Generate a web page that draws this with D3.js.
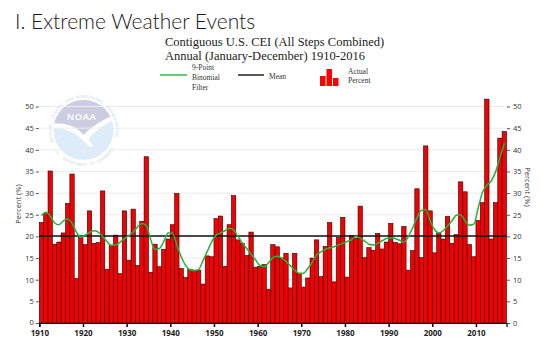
<!DOCTYPE html>
<html>
<head>
<script src="https://d3js.org/d3.v7.min.js"></script>
<style>
  body { margin: 0; background: #fff; }
  svg text { font-family: "Open Sans", sans-serif; }
</style>
</head>
<body>
<div id="chart"></div>
<script>
// CEI annual values, 1910-2016
const firstYear = 1910;
const actualPercent = [
  23.2, 25.3, 35.1, 18.2, 18.7, 20.8, 27.6, 34.4, 10.3, 19.7,
  18.1, 25.9, 18.4, 18.6, 30.5, 12.4, 18.0, 20.3, 11.4, 25.9,
  14.5, 26.3, 13.3, 23.5, 38.4, 11.7, 18.2, 13.0, 17.0, 19.4,
  22.7, 29.9, 12.6, 10.5, 12.4, 12.2, 12.2, 9.0, 15.5, 15.3,
  24.1, 24.7, 13.1, 22.7, 29.4, 19.2, 18.4, 15.6, 21.0, 12.9,
  13.1, 13.5, 7.8, 18.1, 17.6, 15.0, 16.1, 8.1, 16.1, 11.4,
  8.3, 10.4, 15.0, 19.2, 10.7, 17.7, 23.2, 9.5, 19.7, 24.4,
  10.6, 20.2, 19.6, 27.0, 15.1, 17.4, 16.8, 20.7, 17.1, 18.7,
  23.0, 18.6, 18.3, 22.3, 12.2, 16.7, 31.0, 15.1, 40.9, 25.9,
  16.2, 20.7, 19.4, 24.6, 18.4, 20.4, 32.6, 30.3, 18.1, 15.3,
  23.7, 27.8, 51.7, 19.4, 27.8, 42.7, 44.2
];
const binomialFilter = [
  24.8, 25.6, 24.7, 23.1, 22.7, 23.6, 24.0, 23.0, 21.0, 19.8,
  20.3, 20.9, 21.3, 21.0, 20.0, 18.8, 17.9, 18.0, 18.7, 19.5,
  20.2, 21.0, 22.2, 23.0, 22.5, 19.3, 17.0, 17.2, 18.8, 20.8,
  20.8, 18.0, 15.3, 13.3, 12.3, 12.1, 12.4, 14.4, 16.6, 18.8,
  20.3, 20.8, 21.3, 21.9, 21.5, 20.0, 18.5, 17.2, 15.9, 14.6,
  13.3, 13.0, 13.9, 15.1, 15.4, 15.0, 14.2, 13.2, 12.2, 11.5,
  11.5, 12.6, 14.0, 15.7, 16.4, 17.0, 17.4, 17.6, 18.0, 18.4,
  18.8, 19.2, 20.0, 19.6, 18.9, 18.2, 18.0, 18.4, 19.0, 19.5,
  19.7, 19.5, 19.1, 18.7, 19.9, 22.0, 24.3, 26.0, 26.2, 23.6,
  21.6, 20.8, 21.3, 22.4, 23.6, 24.9, 25.0, 23.6, 22.6, 22.8,
  26.5, 30.2, 31.8, 32.8, 34.9, 38.2, 41.5
];
const meanPercent = 20.1;
const yTicks = [0, 5, 10, 15, 20, 25, 30, 35, 40, 45, 50];
const xTickYears = [1910, 1920, 1930, 1940, 1950, 1960, 1970, 1980, 1990, 2000, 2010];

const years = actualPercent.map((v, i) => firstYear + i);
const width = 541, height = 350;
const plot = { left: 39.3, right: 506.5, top: 106.5, bottom: 323 };

const svg = d3.select("#chart").append("svg")
  .attr("width", width)
  .attr("height", height);

const x = d3.scaleLinear()
  .domain([firstYear, firstYear + years.length])
  .range([plot.left, plot.right]);
const y = d3.scaleLinear()
  .domain([0, 50])
  .range([plot.bottom, plot.top]);

// page heading
svg.append("text")
  .attr("x", 15).attr("y", 29)
  .style("font-family", "Lato, sans-serif")
  .style("font-size", "21px")
  .style("font-weight", 300)
  .attr("fill", "#1a1a1a")
  .text("I. Extreme Weather Events");

// chart title
const title = svg.append("g").attr("fill", "#222");
title.append("text").attr("x", 165).attr("y", 46)
  .style("font-family", "'Liberation Serif', serif").style("font-size", "12.5px")
  .text("Contiguous U.S. CEI (All Steps Combined)");
title.append("text").attr("x", 165).attr("y", 60)
  .style("font-family", "'Liberation Serif', serif").style("font-size", "12.5px")
  .text("Annual (January-December) 1910-2016");

// legend
const legend = svg.append("g").attr("fill", "#333");
const legText = (tx, ty, s) => legend.append("text")
  .attr("x", tx).attr("y", ty)
  .style("font-family", "'Liberation Serif', serif")
  .style("font-size", "7.5px")
  .text(s);
legend.append("line").attr("x1", 160).attr("x2", 187).attr("y1", 75).attr("y2", 75)
  .attr("stroke", "#2ebd3c").attr("stroke-width", 1.5);
legText(192, 70, "9-Point");
legText(192, 80, "Binomial");
legText(192, 90, "Filter");
legend.append("line").attr("x1", 238).attr("x2", 264).attr("y1", 75).attr("y2", 75)
  .attr("stroke", "#222").attr("stroke-width", 1.5);
legText(269, 79, "Mean");
[[320, 76], [326.5, 69], [333, 78]].forEach(([bx, by]) => {
  legend.append("rect").attr("x", bx).attr("y", by)
    .attr("width", 5.5).attr("height", 86 - by).attr("fill", "#f00");
});
legText(348, 74, "Actual");
legText(348, 83, "Percent");

// NOAA watermark
const logo = svg.append("g").attr("transform", "translate(83.5,130)");
const defs = svg.append("defs");
defs.append("clipPath").attr("id", "logoClip")
  .append("circle").attr("r", 30);
logo.append("circle").attr("r", 30).attr("fill", "#dcecf8");
logo.append("path")
  .attr("clip-path", "url(#logoClip)")
  .attr("d", "M -32,-6 C -16,-8 -6,-2 0,5 C 8,-3 19,-11 32,-15 L 32,-32 L -32,-32 Z")
  .attr("fill", "#cdcde2");
logo.append("path")
  .attr("clip-path", "url(#logoClip)")
  .attr("d", "M -32,-6 C -16,-8 -6,-2 0,5 C 8,-3 19,-11 32,-15 L 32,-11 C 20,-6 11,2 5,9 L 10,16 L 6,17 L -1,10 C -8,3 -17,-2 -32,-2 Z")
  .attr("fill", "#fff");
logo.append("text").attr("x", -2).attr("y", -10).attr("text-anchor", "middle")
  .style("font-size", "9.5px").style("font-weight", 600)
  .style("letter-spacing", "0.5px")
  .attr("fill", "#fff").text("NOAA");

// ring lettering, one arc per word
const ringWord = (word, a0, a1, r, bottom) => {
  const rad = Math.PI / 180;
  const id = "ring" + word.replace(/\W/g, "") + Math.round(a0);
  const d = bottom
    ? `M ${r * Math.sin(a0 * rad)},${r * Math.cos(a0 * rad)} A ${r},${r} 0 0 0 ${r * Math.sin(a1 * rad)},${r * Math.cos(a1 * rad)}`
    : `M ${r * Math.sin(a0 * rad)},${-r * Math.cos(a0 * rad)} A ${r},${r} 0 0 1 ${r * Math.sin(a1 * rad)},${-r * Math.cos(a1 * rad)}`;
  defs.append("path").attr("id", id).attr("d", d);
  logo.append("text").style("font-size", "4px").attr("fill", "#c9d3e3")
    .append("textPath").attr("href", "#" + id).text(word);
};
const layRing = (words, start, step, r, bottom) => {
  let a = start;
  words.forEach(w => {
    const span = w.length * step;
    ringWord(w, a, a + span + 3 * step, r, bottom);
    a += span + step;
  });
};
layRing(["NATIONAL", "OCEANIC", "AND", "ATMOSPHERIC", "ADMINISTRATION"], -112, 4.7, 32, false);
layRing(["U.S.", "DEPARTMENT", "OF", "COMMERCE"], -57, 4.2, 36, true);

// gridlines
svg.append("g")
  .selectAll("line")
  .data(yTicks.filter(d => d > 0))
  .join("line")
  .attr("x1", plot.left).attr("x2", plot.right)
  .attr("y1", d => y(d)).attr("y2", d => y(d))
  .attr("stroke", "#ebebeb").attr("stroke-width", 1);

// bars
svg.append("g")
  .selectAll("rect")
  .data(years)
  .join("rect")
  .attr("x", d => x(d))
  .attr("y", (d, i) => y(actualPercent[i]))
  .attr("width", x(firstYear + 1) - x(firstYear))
  .attr("height", (d, i) => plot.bottom - y(actualPercent[i]))
  .attr("fill", "#f50000")
  .attr("stroke", "#2a0000")
  .attr("stroke-width", 0.6);

// mean
svg.append("line")
  .attr("x1", plot.left).attr("x2", plot.right)
  .attr("y1", y(meanPercent)).attr("y2", y(meanPercent))
  .attr("stroke", "#111").attr("stroke-width", 1.5);

// binomial filter
svg.append("path")
  .datum(years)
  .attr("fill", "none")
  .attr("stroke", "#22b43c")
  .attr("stroke-width", 1.5)
  .attr("d", d3.line()
    .x(d => x(d + 0.5))
    .y((d, i) => y(binomialFilter[i]))
    .curve(d3.curveMonotoneX));

// axes
const leftAxis = svg.append("g")
  .attr("transform", `translate(${plot.left - 0.5},0)`)
  .call(d3.axisLeft(y).tickValues(yTicks).tickSize(3).tickPadding(2));
const rightAxis = svg.append("g")
  .attr("transform", `translate(${plot.right + 0.5},0)`)
  .call(d3.axisRight(y).tickValues(yTicks).tickSize(3).tickPadding(3));
[leftAxis, rightAxis].forEach(a => {
  a.select(".domain").remove();
  a.selectAll(".tick line").attr("stroke", "#555");
  a.selectAll(".tick text").style("font-size", "7.5px").attr("fill", "#333");
});
leftAxis.selectAll(".tick text").filter(d => d === 0).attr("dy", "0.2em");

const bottomAxis = svg.append("g")
  .attr("transform", `translate(0,${plot.bottom})`)
  .call(d3.axisBottom(x).tickValues(xTickYears).tickFormat(d3.format("d")).tickSize(4).tickPadding(3));
bottomAxis.select(".domain").attr("stroke", "#000").attr("stroke-width", 1.2);
bottomAxis.selectAll(".tick line").attr("stroke", "#000").attr("stroke-width", 1.5);
bottomAxis.selectAll(".tick text")
  .style("font-size", "8px").style("font-weight", "bold").attr("fill", "#222");

// axis titles
svg.append("text")
  .attr("transform", "translate(21,204) rotate(-90)")
  .attr("text-anchor", "middle")
  .style("font-size", "7.5px").attr("fill", "#333")
  .text("Percent (%)");
svg.append("text")
  .attr("transform", "translate(525,187) rotate(90)")
  .attr("text-anchor", "middle")
  .style("font-size", "7.5px").attr("fill", "#333")
  .text("Percent (%)");
</script>
</body>
</html>
